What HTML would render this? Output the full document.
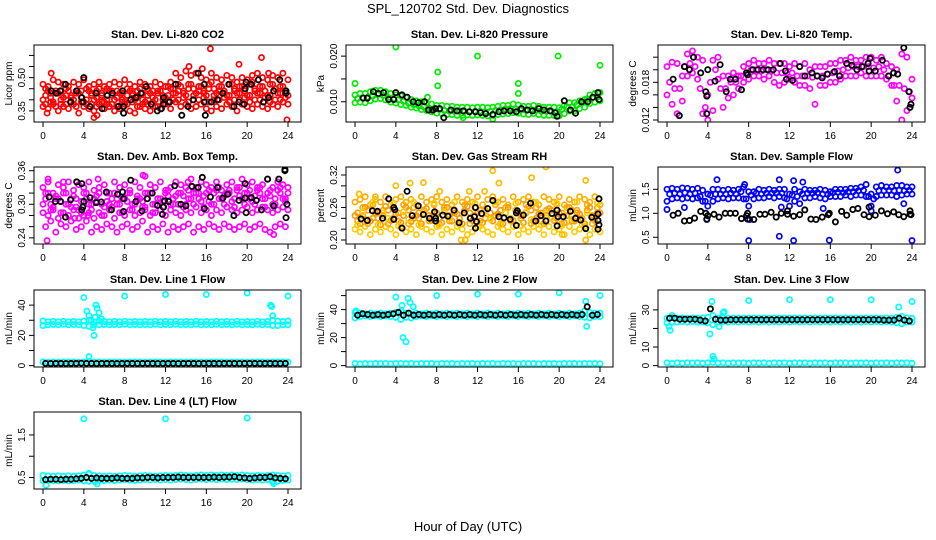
<!DOCTYPE html>
<html><head><meta charset="utf-8"><style>
body{margin:0;background:#fff}
svg{display:block;font-family:"Liberation Sans",sans-serif}
</style></head><body>
<svg id="chart" width="936" height="540" viewBox="0 0 936 540">
<text x="468" y="13" text-anchor="middle" font-size="13">SPL_120702  Std. Dev. Diagnostics</text>
<text x="468" y="531" text-anchor="middle" font-size="13">Hour of Day (UTC)</text>
</svg>
<script>
const H=[0,0.5,1,1.5,2,2.5,3,3.5,4,4.5,5,5.5,6,6.5,7,7.5,8,8.5,9,9.5,10,10.5,11,11.5,12,12.5,13,13.5,14,14.5,15,15.5,16,16.5,17,17.5,18,18.5,19,19.5,20,20.5,21,21.5,22,22.5,23,23.5,24];
const H2=[0.25,0.75,1.25,1.75,2.25,2.75,3.25,3.75,4.25,4.75,5.25,5.75,6.25,6.75,7.25,7.75,8.25,8.75,9.25,9.75,10.25,10.75,11.25,11.75,12.25,12.75,13.25,13.75,14.25,14.75,15.25,15.75,16.25,16.75,17.25,17.75,18.25,18.75,19.25,19.75,20.25,20.75,21.25,21.75,22.25,22.75,23.25,23.75];
const xTicks=[0,4,8,12,16,20,24];
// CO2
const co2Hi=[.47,.46,.49,.48,.47,.46,.48,.47,.49,.46,.47,.48,.46,.47,.48,.47,.49,.47,.46,.48,.47,.46,.48,.47,.46,.48,.52,.50,.53,.51,.52,.50,.49,.52,.50,.49,.51,.50,.48,.50,.49,.51,.52,.50,.49,.51,.50,.52,.49];
const co2Mid=[.42,.41,.43,.40,.42,.41,.43,.41,.40,.42,.41,.43,.40,.42,.41,.40,.42,.43,.41,.40,.42,.41,.43,.40,.42,.43,.44,.43,.45,.42,.44,.43,.45,.42,.44,.43,.42,.44,.43,.45,.42,.44,.43,.44,.42,.45,.43,.44];
const co2Lo=[.37,.36,.38,.35,.37,.36,.38,.34,.37,.36,.35,.38,.36,.37,.35,.36,.38,.35,.34,.37,.36,.35,.37,.36,.38,.36,.39,.37,.38,.36,.37,.38,.36,.35,.37,.36,.38,.37,.35,.38,.37,.36,.38,.37,.36,.38,.37,.39,.38];
const co2Ex=[.45,.39,.44,.38,.45,.39,.44,.39,.45,.38,.44,.39,.45,.38,.44,.39,.45,.39,.44,.38,.45,.39,.44,.38,.46,.40,.47,.41,.47,.40,.46,.41,.47,.40,.46,.41,.47,.40,.46,.41,.47,.40,.46,.41,.47,.40,.46,.41];
const co2Ex2=[.40,.44,.39,.43,.41,.44,.40,.43,.39,.44,.40,.45,.39,.44,.40,.43,.39,.44,.40,.45,.39,.43,.40,.44,.41,.45,.43,.46,.42,.47,.43,.46,.42,.48,.43,.46,.42,.47,.43,.46,.42,.48,.43,.46,.42,.47,.43,.46,.42];
const co2Ex3=[.38,.43,.37,.44,.38,.42,.37,.44,.38,.43,.37,.42,.38,.44,.37,.43,.38,.42,.37,.43,.38,.44,.37,.42,.39,.45,.40,.44,.39,.45,.40,.44,.39,.45,.40,.44,.39,.45,.40,.44,.39,.45,.40,.44,.39,.45,.40,.44];
const co2OutX=[16.4,19.2,21.4,23.9,0.4,5,5.3,0.8,14.3,15.6,22.1];
const co2OutY=[.63,.56,.59,.31,.34,.32,.33,.52,.55,.54,.52];
const co2BX=[0.8,1.3,1.7,2.2,2.7,3.3,3.8,4,3.9,4.6,5.2,5.8,6.3,6.8,7.4,7.8,7.9,7.9,8.6,9.1,9.6,10.1,10.6,11.2,11.6,11.8,11.8,12.4,13,13.6,14.2,14.7,15.2,15.8,15.8,15.9,16.5,17.1,17.6,18.2,18.7,19.2,19.7,19.8,19.9,20.4,21.1,21.6,22.1,22.6,23.2,23.8,23.8];
const co2BY=[.44,.43,.44,.47,.39,.44,.41,.50,.39,.37,.43,.36,.42,.43,.37,.44,.37,.34,.40,.41,.43,.46,.38,.35,.36,.41,.38,.39,.47,.33,.37,.40,.52,.47,.39,.33,.39,.40,.43,.47,.37,.39,.38,.45,.48,.47,.49,.39,.41,.44,.49,.44,.43];
// Pressure
const prHi=[.0115,.0118,.0118,.0122,.0125,.0125,.0122,.0118,.0115,.0113,.011,.0105,.0102,.01,.0098,.0095,.0092,.0092,.009,.009,.0088,.0088,.0088,.0087,.0088,.0088,.0087,.0088,.009,.0092,.0092,.0095,.0093,.009,.009,.0092,.009,.0088,.0088,.0088,.0087,.0092,.0098,.0098,.0102,.0105,.0115,.0118,.012];
const prLo=[.0098,.0099,.0098,.0102,.0106,.0107,.0104,.0099,.0097,.0094,.0092,.0088,.0086,.0083,.0081,.0078,.0075,.0074,.0072,.0072,.007,.007,.0071,.007,.0071,.007,.0069,.007,.0072,.0073,.0074,.0076,.0075,.0073,.0072,.0074,.0072,.007,.007,.007,.0069,.0074,.008,.008,.0085,.0088,.0096,.0099,.0102];
const prMid=[.0107,.0109,.011,.0113,.0116,.0114,.0109,.0106,.0104,.0101,.0097,.0094,.0091,.0089,.0086,.0083,.0083,.0081,.008,.0079,.0079,.0079,.0078,.0079,.0079,.0078,.0079,.0081,.0082,.0084,.0085,.0084,.0082,.0081,.0083,.0081,.0079,.0079,.0079,.0078,.0083,.0089,.0089,.0093,.0097,.0106,.0109,.011];
const prOutX=[0,4,8.1,8.1,12,16,16,19.9,24,7.1,13.5,10.6];
const prOutY=[.014,.022,.0165,.0135,.020,.014,.0118,.020,.018,.011,.0062,.0065];
const prBX=[0.8,1.2,1.8,2.3,2.8,3.3,3.8,4,4.6,5.1,5.7,6.2,6.8,7.2,7.6,7.9,8.3,8.7,9.4,10,10.6,11.2,11.8,12.3,12.8,13.5,14.1,14.6,15.2,15.8,16.3,16.9,17.4,18,18.5,19.1,19.6,19.8,20.5,21.1,21.6,22.2,22.8,23.3,23.8,23.9];
const prBY=[.0108,.0108,.0122,.0118,.012,.0105,.0105,.012,.0115,.011,.01,.0098,.01,.0082,.0082,.0085,.0085,.0065,.0082,.008,.008,.0078,.0078,.0076,.0074,.0072,.0078,.008,.008,.0078,.0085,.0082,.008,.0085,.0082,.008,.0076,.0068,.0102,.0082,.0075,.01,.01,.011,.012,.0105];
// Li-820 temp
const tHi=[.0205,.0212,.021,.019,.0225,.023,.022,.0215,.016,.0215,.022,.019,.019,.0195,.019,.0205,.021,.0215,.021,.021,.0215,.021,.021,.021,.0205,.021,.0205,.021,.02,.0205,.0205,.0205,.021,.021,.0215,.0215,.022,.0215,.0215,.022,.022,.0215,.022,.021,.0205,.02,.0225,.022,.0185];
const tLo=[.016,.0145,.013,.015,.019,.0195,.0185,.013,.012,.0135,.0185,.014,.0155,.016,.017,.018,.0185,.019,.019,.0185,.019,.018,.0175,.018,.0185,.018,.0175,.0175,.017,.0145,.0175,.0175,.018,.018,.0185,.019,.019,.019,.0195,.019,.019,.019,.019,.0185,.0175,.015,.012,.0135,.0155];
const tMid=[.018,.017,.017,.0205,.021,.0205,.017,.014,.018,.02,.017,.017,.018,.018,.019,.0195,.02,.02,.0198,.02,.0198,.0195,.0195,.0195,.0195,.019,.019,.019,.0188,.019,.019,.0193,.0195,.0198,.02,.0203,.0205,.0205,.0205,.0205,.0203,.0205,.02,.019,.0175,.0175,.017,.0165];
const tBX=[0.6,1.2,1.7,2.2,2.6,3.3,3.8,3.9,3.9,4,4.7,5.2,5.8,6.2,6.7,7.3,7.8,7.9,8.4,8.9,9.4,9.9,10.4,11.1,11.6,11.7,12.3,13,13.5,14.2,14.7,15.2,15.7,16.4,16.9,17.6,18.1,18.6,19.1,19.7,19.8,19.9,20.4,21.1,21.7,22.2,22.6,23.2,23.7,23.8,23.9];
const tBY=[.0185,.0127,.0205,.02,.022,.0195,.0165,.0158,.013,.02,.0182,.0208,.0165,.0185,.0185,.0168,.0195,.0192,.02,.02,.02,.02,.02,.021,.0198,.0185,.0183,.0205,.019,.0195,.019,.0187,.0193,.0197,.019,.021,.0207,.02,.0205,.021,.0198,.0218,.0198,.0215,.019,.0195,.0193,.0235,.0165,.014,.0145];
// Amb box temp
const abHi=[.33,.34,.32,.335,.33,.34,.325,.335,.33,.34,.325,.33,.335,.32,.34,.33,.335,.325,.34,.33,.32,.335,.33,.34,.325,.33,.34,.335,.33,.345,.33,.34,.335,.33,.34,.325,.335,.34,.33,.345,.335,.34,.33,.335,.345,.33,.34,.335,.33];
const abMid=[.31,.30,.315,.305,.30,.31,.295,.305,.31,.30,.315,.30,.305,.31,.30,.31,.305,.30,.315,.305,.31,.30,.31,.305,.315,.31,.30,.315,.31,.32,.31,.315,.305,.32,.31,.315,.32,.31,.315,.32,.31,.315,.32,.31,.315,.31,.32,.31];
const abLo=[.285,.28,.29,.275,.285,.28,.29,.275,.28,.285,.275,.285,.28,.29,.275,.285,.28,.29,.28,.285,.29,.28,.285,.29,.28,.29,.285,.28,.29,.285,.295,.285,.29,.28,.29,.285,.295,.29,.285,.29,.295,.285,.29,.295,.29,.285,.29,.295,.29];
const abEx=[.26,.27,.25,.265,.26,.27,.255,.26,.27,.25,.26,.255,.265,.26,.25,.26,.265,.255,.26,.27,.25,.26,.255,.265,.25,.26,.255,.26,.265,.25,.26,.255,.265,.26,.255,.265,.26,.255,.26,.265,.255,.26,.265,.255,.25,.26,.265,.26];
const abEx2=[.30,.32,.295,.31,.32,.30,.315,.29,.32,.30,.31,.32,.295,.30,.32,.30,.31,.32,.30,.31,.295,.32,.30,.31,.32,.30,.315,.32,.30,.31,.32,.305,.32,.30,.325,.31,.32,.305,.325,.31,.32,.305,.325,.31,.32,.30,.325,.31,.32];
const abEx3=[.32,.29,.31,.285,.32,.295,.31,.285,.32,.29,.305,.28,.32,.295,.31,.285,.32,.29,.31,.295,.32,.285,.31,.295,.325,.30,.32,.295,.325,.30,.32,.295,.325,.30,.33,.30,.325,.295,.33,.30,.325,.30,.33,.295,.325,.30,.33,.305];
const abOutX=[0.4,0.5,2,3.3,5.4,9.8,10,14.2,22.6,3.1,4.4];
const abOutY=[.235,.345,.34,.34,.345,.352,.35,.34,.246,.275,.28];
const abBX=[0.6,1.2,1.7,2.2,2.7,3.3,3.8,3.8,3.9,4,4.6,5.2,5.7,6.2,6.7,7.3,7.8,7.9,7.9,8.6,9.1,9.7,10.2,10.7,11.2,11.7,11.8,11.9,12.3,12.9,13.5,14,14.6,15.2,15.6,15.8,16.4,17.1,17.6,18.1,18.7,19.2,19.8,19.8,19.9,20.4,20.9,21.4,22,22.6,23.1,23.7,23.7,23.8,23.9];
const abBY=[.313,.305,.305,.277,.308,.34,.337,.29,.295,.305,.312,.303,.304,.322,.29,.318,.322,.31,.287,.343,.305,.288,.31,.32,.298,.282,.295,.306,.305,.333,.3,.297,.332,.33,.348,.292,.313,.33,.311,.318,.28,.307,.311,.337,.285,.312,.307,.29,.345,.297,.345,.36,.362,.276,.3];
// RH
const rhHi=[.27,.275,.28,.265,.275,.27,.28,.265,.275,.28,.27,.275,.265,.28,.27,.275,.28,.27,.275,.265,.28,.27,.275,.27,.28,.265,.275,.28,.27,.275,.265,.28,.27,.275,.28,.27,.265,.28,.275,.27,.28,.265,.275,.27,.28,.275,.27,.28,.265];
const rhMid=[.25,.245,.255,.24,.25,.245,.255,.24,.25,.245,.255,.24,.25,.255,.245,.25,.24,.255,.245,.25,.24,.255,.25,.245,.255,.24,.25,.245,.255,.25,.24,.255,.245,.25,.255,.24,.25,.245,.255,.24,.25,.245,.255,.25,.24,.255,.245,.25];
const rhLo=[.22,.215,.225,.21,.22,.215,.225,.22,.21,.225,.215,.22,.21,.225,.22,.215,.225,.21,.22,.215,.225,.22,.21,.215,.225,.22,.215,.21,.225,.22,.215,.225,.21,.22,.215,.225,.22,.21,.225,.215,.22,.21,.225,.215,.22,.225,.21,.22,.215];
const rhEx=[.235,.26,.23,.265,.24,.255,.23,.26,.235,.265,.23,.26,.24,.255,.235,.265,.23,.26,.235,.255,.24,.265,.23,.26,.235,.255,.24,.265,.23,.26,.235,.255,.24,.265,.23,.26,.235,.255,.24,.265,.23,.26,.235,.255,.24,.265,.23,.26];
const rhEx2=[.245,.23,.26,.235,.25,.228,.262,.236,.248,.232,.26,.234,.245,.23,.258,.236,.25,.232,.26,.235,.248,.23,.262,.236,.25,.232,.258,.235,.248,.23,.26,.236,.25,.232,.262,.235,.248,.23,.258,.236,.25,.232,.26,.235,.248,.23,.26,.236,.25];
const rhEx3=[.228,.252,.238,.27,.228,.25,.24,.268,.226,.252,.238,.27,.228,.25,.24,.268,.226,.252,.238,.27,.228,.25,.24,.268,.226,.252,.238,.27,.228,.25,.24,.268,.226,.252,.238,.27,.228,.25,.24,.268,.226,.252,.238,.27,.228,.25,.24,.268];
const rhOutX=[0.4,4,5.4,6.7,10.4,10.8,11.2,12.7,13.5,14.1,17.3,18.7,22.6,22.6,20.3,2,8.3];
const rhOutY=[.285,.30,.305,.306,.20,.20,.29,.29,.328,.305,.315,.335,.20,.31,.21,.28,.29];
const rhBX=[0.6,1.2,1.7,2.2,2.7,3.3,3.8,3.8,3.9,4.6,5.1,5.6,6.2,6.7,7.3,7.8,7.9,7.9,8.6,9.1,9.7,10.2,10.7,11.3,11.7,11.8,11.8,11.9,12.4,13,13.5,14.1,14.6,15.2,15.8,15.8,15.9,16.5,17.2,17.7,18.2,18.7,19.3,19.8,19.8,19.9,20.4,21.1,21.6,22.1,22.6,23.2,23.8,23.8,23.9,23.9,23.8];
const rhBY=[.239,.236,.254,.253,.24,.276,.26,.238,.256,.222,.29,.245,.263,.247,.24,.252,.24,.235,.246,.244,.255,.232,.25,.24,.243,.26,.222,.234,.249,.258,.273,.243,.241,.238,.227,.25,.254,.246,.268,.235,.245,.235,.249,.226,.255,.243,.243,.253,.24,.237,.221,.242,.22,.236,.228,.276,.248];
// Sample flow
const sfHi=[1.5,1.52,1.5,1.53,1.52,1.5,1.52,1.48,1.4,1.5,1.5,1.48,1.5,1.48,1.5,1.55,1.45,1.45,1.5,1.48,1.5,1.48,1.5,1.5,1.4,1.5,1.45,1.5,1.48,1.48,1.5,1.48,1.45,1.5,1.5,1.5,1.52,1.52,1.55,1.6,1.4,1.55,1.58,1.55,1.55,1.58,1.58,1.55,1.55];
const sfLo=[1.25,1.3,1.32,1.3,1.32,1.3,1.32,1.25,1.15,1.25,1.3,1.32,1.3,1.32,1.32,1.3,1.15,1.3,1.32,1.32,1.35,1.32,1.35,1.32,1.15,1.25,1.2,1.32,1.32,1.35,1.32,1.3,1.35,1.35,1.35,1.38,1.35,1.38,1.38,1.35,1.15,1.35,1.38,1.38,1.38,1.35,1.38,1.4,1.4];
const sfMid=[1.4,1.42,1.4,1.43,1.4,1.42,1.35,1.25,1.38,1.4,1.4,1.4,1.42,1.4,1.45,1.3,1.38,1.42,1.4,1.42,1.42,1.43,1.42,1.3,1.38,1.35,1.4,1.42,1.42,1.43,1.4,1.4,1.43,1.44,1.43,1.45,1.45,1.47,1.48,1.35,1.3,1.47,1.47,1.48,1.47,1.48,1.47,1.48];
const sfOutX=[8,11,12.4,15.9,24,22.6,4.9,11,12.4,13.3,0,1.7,3.9,8.1,15.3,20,23.2,7.6,11.2];
const sfOutY=[.43,.52,.43,.44,.43,1.9,1.7,1.7,1.68,1.65,1.08,1.12,.87,.87,1.1,1.05,1.2,1.6,1.13];
const sfBX=[0.6,1.1,1.7,2.2,2.7,3.3,3.8,3.9,4,4.6,5.1,5.7,6.2,6.7,7.3,7.8,7.9,7.9,8.5,9.1,9.6,10.2,10.7,11.2,11.8,11.8,12.4,13,13.5,14.1,14.6,15.2,15.8,15.9,16.5,17.1,17.6,18.2,18.7,19.3,19.8,19.8,20.4,21,21.6,22.2,22.7,23.2,23.8,23.8,23.9];
const sfBY=[.96,1.0,.84,.85,.9,1.04,1.0,.88,.95,.98,.92,1.0,1.0,1.0,.89,.95,1.0,.88,.87,.98,.98,1.02,.92,1.0,1.05,.98,.94,.97,1.07,.88,.87,.92,.97,1.0,.82,1.04,.96,1.08,1.1,.97,1.13,.93,.96,1.05,.99,1.03,.97,.93,1.05,.98,.97];
// Line 1
const l1Hi=[29.5,29,29.2,29,29.3,29,29.2,29,29.5,30,29,29.5,29.2,29,29.2,29,29.3,29,29.2,29,29.2,29,29.3,29,29.2,29,29.3,29,29.2,29,29.3,29,29.2,29,29.3,29,29.2,29,29.3,29,29.2,29,29.3,29,29.2,30,29.5,29.2,29.5];
const l1Lo=[26.5,27,27.2,27,27.3,27,27.2,27,26.5,26,27,27,27.2,27,27.2,27,27.3,27,27.2,27,27.2,27,27.3,27,27.2,27,27.3,27,27.2,27,27.3,27,27.2,27,27.3,27,27.2,27,27.3,27,27.2,27,27.3,27,27.2,26.5,26.5,27,27];
const l1Bot=[2.5,2.2,2.5,2.3,2.5,2.4,2.5,2.3,2.5,2.6,2.4,2.5,2.3,2.5,2.4,2.5,2.3,2.5,2.4,2.5,2.3,2.5,2.4,2.5,2.3,2.5,2.4,2.5,2.3,2.5,2.4,2.5,2.3,2.5,2.4,2.5,2.3,2.5,2.4,2.5,2.3,2.5,2.4,2.5,2.3,2.5,2.4,2.5,2.3];
const l1OutX=[4,8,12,16,20,24,22.3,22.4,22.5,4.3,4.5,4.7,4.9,5,5.2,5.3,5.5,5.7,4.5,5.1];
const l1OutY=[45,46,47,47,48,46,40,39,33,36,33,30,25,20,40,38,35,31,6,32];
const l1BY=[1.5,1.4,1.5,1.5,1.4,1.5,1.5,1.6,1.5,1.5,1.4,1.5,1.5,1.5,1.4,1.5,1.5,1.5,1.4,1.5,1.5,1.5,1.4,1.5,1.5,1.5,1.4,1.5,1.5,1.5,1.4,1.5,1.5,1.5,1.4,1.5,1.5,1.5,1.4,1.5,1.5,1.5,1.4,1.5,1.5,1.5,1.4,1.5];
// Line 2
const l2Hi=[38,37.5,37,37.5,37,37.5,37,37.5,38,39,37.5,37,37.5,37,37.5,37,37.5,37,37.5,37,37.5,37,37.5,37,37.5,37,37.5,37,37.5,37,37.5,37,37.5,37,37.5,37,37.5,37,37.5,37,37.5,37,37.5,37,37.5,39,38,37.5,37.5];
const l2Lo=[34,35,35.5,35,35.5,35,35.5,35,34.5,33,34.5,34,35,35.5,35,35.5,35,35.5,35,35.5,35,35.5,35,35.5,35,35.5,35,35.5,35,35.5,35,35.5,35,35.5,35,35.5,35,35.5,35,35.5,35,35.5,35,35.5,35,34.5,34,35,35];
const l2Bot=[1.5,1.2,1.5,1.3,1.5,1.4,1.5,1.3,1.5,1.6,1.4,1.5,1.3,1.5,1.4,1.5,1.3,1.5,1.4,1.5,1.3,1.5,1.4,1.5,1.3,1.5,1.4,1.5,1.3,1.5,1.4,1.5,1.3,1.5,1.4,1.5,1.3,1.5,1.4,1.5,1.3,1.5,1.4,1.5,1.3,1.5,1.4,1.5,1.3];
const l2OutX=[4,4.6,4.7,5,5.2,5.4,5.7,8,12,16,20,24,22.6,22.7,0.1];
const l2OutY=[49,43,20,17,48,45,42,50,51,51,52,50,46,28,39];
const l2BY=[36,37,36.5,36,36.5,36,36.5,37,38,36,37.5,36,36.5,36,36.5,36,36.5,36,36.5,36,36.5,36,36.5,36,36.5,36,36.5,36,36.5,36,36.5,36,36.5,36,36.5,36,36.5,36,36.5,36,36.5,36,36.5,36,36.5,42,36,36.5];
// Line 3
const l3Hi=[25.5,26,25.5,25.7,25.5,25.7,25.5,25.7,26,27,25.5,25.7,25.5,25.7,25.5,25.7,25.5,25.7,25.5,25.7,25.5,25.7,25.5,25.7,25.5,25.7,25.5,25.7,25.5,25.7,25.5,25.7,25.5,25.7,25.5,25.7,25.5,25.7,25.5,25.7,25.5,25.7,25.5,25.7,25.5,26,26.5,25.7,25.5];
const l3Lo=[23,23.5,23.5,23.7,23.5,23.7,23.5,23.5,23,22,23.5,23.7,23.5,23.7,23.5,23.7,23.5,23.7,23.5,23.7,23.5,23.7,23.5,23.7,23.5,23.7,23.5,23.7,23.5,23.7,23.5,23.7,23.5,23.7,23.5,23.7,23.5,23.7,23.5,23.7,23.5,23.7,23.5,23.7,23.5,23,22.5,23.5,23.5];
const l3Bot=[1.5,1.2,1.5,1.3,1.5,1.4,1.5,1.3,1.5,1.6,1.4,1.5,1.3,1.5,1.4,1.5,1.3,1.5,1.4,1.5,1.3,1.5,1.4,1.5,1.3,1.5,1.4,1.5,1.3,1.5,1.4,1.5,1.3,1.5,1.4,1.5,1.3,1.5,1.4,1.5,1.3,1.5,1.4,1.5,1.3,1.5,1.4,1.5,1.3];
const l3OutX=[0.3,0.2,0.5,4.2,4.4,5.1,5.4,5.6,5.5,8,12,16,20,24,22.7,4.5,4.6];
const l3OutY=[19,21,27,17,34.5,21,26,29,28.5,35,35.5,35.5,35.5,34.5,31.5,5,3.5];
const l3BY=[25.5,25.5,25,25,25,25,24.5,24,30.5,25,24.5,24.5,24.7,24.7,24.7,24.7,24.7,24.7,24.7,24.7,24.7,24.7,24.7,24.7,24.7,24.7,24.7,24.7,24.7,24.7,24.7,24.7,24.7,24.7,24.7,24.7,24.7,24.7,24.7,24.7,24.7,24.7,24.5,24.5,24.5,25.5,24.5,24];
// Line 4
const l4Hi=[.55,.54,.53,.54,.53,.54,.53,.54,.56,.58,.55,.54,.53,.54,.53,.54,.55,.54,.53,.54,.55,.54,.53,.54,.55,.54,.55,.56,.55,.54,.55,.56,.55,.56,.55,.56,.55,.56,.55,.56,.55,.54,.55,.54,.55,.56,.55,.54,.55];
const l4Lo=[.43,.44,.43,.42,.43,.42,.43,.44,.42,.41,.43,.44,.43,.44,.43,.44,.45,.44,.43,.44,.45,.44,.45,.44,.45,.44,.45,.46,.45,.44,.45,.46,.45,.46,.45,.46,.45,.46,.45,.46,.45,.44,.45,.44,.45,.42,.41,.43,.44];
const l4OutX=[4,12,20,4.5,0.3,5.3,22.6,5.1,22.5];
const l4OutY=[1.88,1.88,1.9,.6,.32,.35,.36,.4,.4];
const l4BY=[.45,.46,.46,.45,.46,.46,.47,.48,.5,.48,.49,.48,.48,.48,.49,.48,.48,.48,.49,.49,.5,.5,.49,.5,.5,.5,.51,.5,.5,.5,.5,.5,.5,.51,.5,.51,.51,.52,.5,.49,.48,.49,.5,.5,.52,.49,.48,.47];

const svg=document.getElementById('chart');
const NS='http://www.w3.org/2000/svg';
function mk(tag,attrs,parent){const e=document.createElementNS(NS,tag);for(const k in attrs)e.setAttribute(k,attrs[k]);(parent||svg).appendChild(e);return e;}

const panels=[
 {name:'co2',title:'Stan. Dev. Li-820 CO2',ylab:'Licor ppm',col:0,row:0,y0:0.30,y1:0.647,ticks:[0.35,0.40,0.45,0.50,0.55,0.60],labs:['0.35','','','0.50','',''],
  series:[[H,co2Hi,'#ff0000'],[H2,co2Mid,'#ff0000'],[H,co2Lo,'#ff0000'],[H2,co2Ex,'#ff0000'],[H,co2Ex2,'#ff0000'],[H2,co2Ex3,'#ff0000'],[co2OutX,co2OutY,'#ff0000'],[co2BX,co2BY,'#000']]},
 {name:'pressure',title:'Stan. Dev. Li-820 Pressure',ylab:'kPa',col:1,row:0,y0:0.00556,y1:0.02244,ticks:[0.010,0.015,0.020],labs:['0.010','','0.020'],
  series:[[H,prHi,'#00ee00'],[H,prLo,'#00ee00'],[H2,prMid,'#00dd00'],[prOutX,prOutY,'#00ee00'],[prBX,prBY,'#000']]},
 {name:'li820-temp',title:'Stan. Dev. Li-820 Temp.',ylab:'degrees C',col:2,row:0,y0:0.01168,y1:0.02394,ticks:[0.012,0.014,0.016,0.018,0.020,0.022],labs:['0.012','','','0.018','',''],
  series:[[H,tHi,'#ff00ff'],[H,tLo,'#ff00ff'],[H2,tMid,'#ff00ff'],[tBX,tBY,'#000']]},
 {name:'amb-box-temp',title:'Stan. Dev. Amb. Box Temp.',ylab:'degrees C',col:0,row:1,y0:0.229,y1:0.3666,ticks:[0.24,0.26,0.28,0.30,0.32,0.34,0.36],labs:['0.24','','','0.30','','','0.36'],
  series:[[H,abHi,'#ff00ff'],[H2,abMid,'#ff00ff'],[H,abLo,'#ff00ff'],[H2,abEx,'#ff00ff'],[H,abEx2,'#ff00ff'],[H2,abEx3,'#ff00ff'],[abOutX,abOutY,'#ff00ff'],[abBX,abBY,'#000']]},
 {name:'gas-stream-rh',title:'Stan. Dev. Gas Stream RH',ylab:'percent',col:1,row:1,y0:0.1926,y1:0.3348,ticks:[0.20,0.22,0.24,0.26,0.28,0.30,0.32],labs:['0.20','','','0.26','','','0.32'],
  series:[[H,rhHi,'#ffb000'],[H2,rhMid,'#ff9900'],[H,rhLo,'#ffcc00'],[H2,rhEx,'#ffaa00'],[H,rhEx2,'#ff9900'],[H2,rhEx3,'#ffcc00'],[rhOutX,rhOutY,'#ffbb00'],[rhBX,rhBY,'#000']]},
 {name:'sample-flow',title:'Stan. Dev. Sample Flow',ylab:'mL/min',col:2,row:1,y0:0.36,y1:1.965,ticks:[0.5,1.0,1.5],labs:['0.5','1.0','1.5'],
  series:[[H,sfHi,'#0000ff'],[H,sfLo,'#0000ff'],[H2,sfMid,'#0000ff'],[sfOutX,sfOutY,'#0000ff'],[sfBX,sfBY,'#000']]},
 {name:'line1-flow',title:'Stan. Dev. Line 1 Flow',ylab:'mL/min',col:0,row:2,y0:-0.9,y1:50,ticks:[0,10,20,30,40],labs:['0','','20','','40'],
  series:[[H,l1Hi,'#00ffff'],[H,l1Lo,'#00ffff'],[H,l1Bot,'#00ffff'],[l1OutX,l1OutY,'#00ffff'],[H2,l1BY,'#000']]},
 {name:'line2-flow',title:'Stan. Dev. Line 2 Flow',ylab:'mL/min',col:1,row:2,y0:-1,y1:54,ticks:[0,10,20,30,40,50],labs:['0','','20','','40',''],
  series:[[H,l2Hi,'#00ffff'],[H,l2Lo,'#00ffff'],[H,l2Bot,'#00ffff'],[l2OutX,l2OutY,'#00ffff'],[H2,l2BY,'#000']]},
 {name:'line3-flow',title:'Stan. Dev. Line 3 Flow',ylab:'mL/min',col:2,row:2,y0:-0.75,y1:40.7,ticks:[0,10,20,30],labs:['0','10','','30'],
  series:[[H,l3Hi,'#00ffff'],[H,l3Lo,'#00ffff'],[H,l3Bot,'#00ffff'],[l3OutX,l3OutY,'#00ffff'],[H2,l3BY,'#000']]},
 {name:'line4-flow',title:'Stan. Dev. Line 4 (LT) Flow',ylab:'mL/min',col:0,row:3,y0:0.23,y1:2.04,ticks:[0.5,1.0,1.5],labs:['0.5','','1.5'],
  series:[[H,l4Hi,'#00ffff'],[H,l4Lo,'#00ffff'],[l4OutX,l4OutY,'#00ffff'],[H2,l4BY,'#000']]}
];
const rowTop=[45,167,290,412];
panels.forEach(p=>{
  const L=p.col*312+34, R=L+267, T=rowTop[p.row], B=T+77;
  const g=mk('g',{});
  
  
  const xs=t=>L+9+t*(245/24);
  const ys=v=>B-(v-p.y0)/(p.y1-p.y0)*(B-T);
  const cp=mk('clipPath',{id:'cp'+p.name},g);
  mk('rect',{x:L,y:T,width:267,height:77},cp);
  const pts=mk('g',{'clip-path':'url(#cp'+p.name+')'},g);
  
  
  p.series.forEach(s=>{
    const [X,Y,c]=s;
    for(let i=0;i<Y.length;i++){
      const ci=mk('circle',{cx:xs(X[i]).toFixed(1),cy:ys(Y[i]).toFixed(1),r:2.6,fill:'none',stroke:c,'stroke-width':c==='#000'?1.8:1.7},pts);
      
      
    }
  });
  const box=mk('rect',{x:L,y:T,width:267,height:77,fill:'none',stroke:'#000','stroke-width':1},g);
  
  
  const t=mk('text',{x:(L+R)/2,y:T-7,'text-anchor':'middle','font-size':11,'font-weight':'bold'},g);
  t.textContent=p.title;
  
  
  const xa=mk('g',{},g);
  
  
  mk('line',{x1:xs(0),x2:xs(24),y1:B,y2:B,stroke:'#000'},xa);
  xTicks.forEach(v=>{
    mk('line',{x1:xs(v),x2:xs(v),y1:B,y2:B+5,stroke:'#000'},xa);
    const tx=mk('text',{x:xs(v),y:B+17,'text-anchor':'middle','font-size':10},xa);
    tx.textContent=String(v);
  });
  const ya=mk('g',{},g);
  
  
  p.ticks.forEach((v,i)=>{
    const y=ys(v);
    mk('line',{x1:L-5,x2:L,y1:y,y2:y,stroke:'#000'},ya);
    if(p.labs[i]){
      const tx=mk('text',{x:L-9,y:y,'text-anchor':'middle','font-size':10,transform:'rotate(-90 '+(L-9)+' '+y+')'},ya);
      tx.textContent=p.labs[i];
    }
  });
  const yl=mk('text',{x:L-22,y:(T+B)/2,'text-anchor':'middle','font-size':10,transform:'rotate(-90 '+(L-22)+' '+((T+B)/2)+')'},ya);
  yl.textContent=p.ylab;
  
  
});
</script>
</body></html>
